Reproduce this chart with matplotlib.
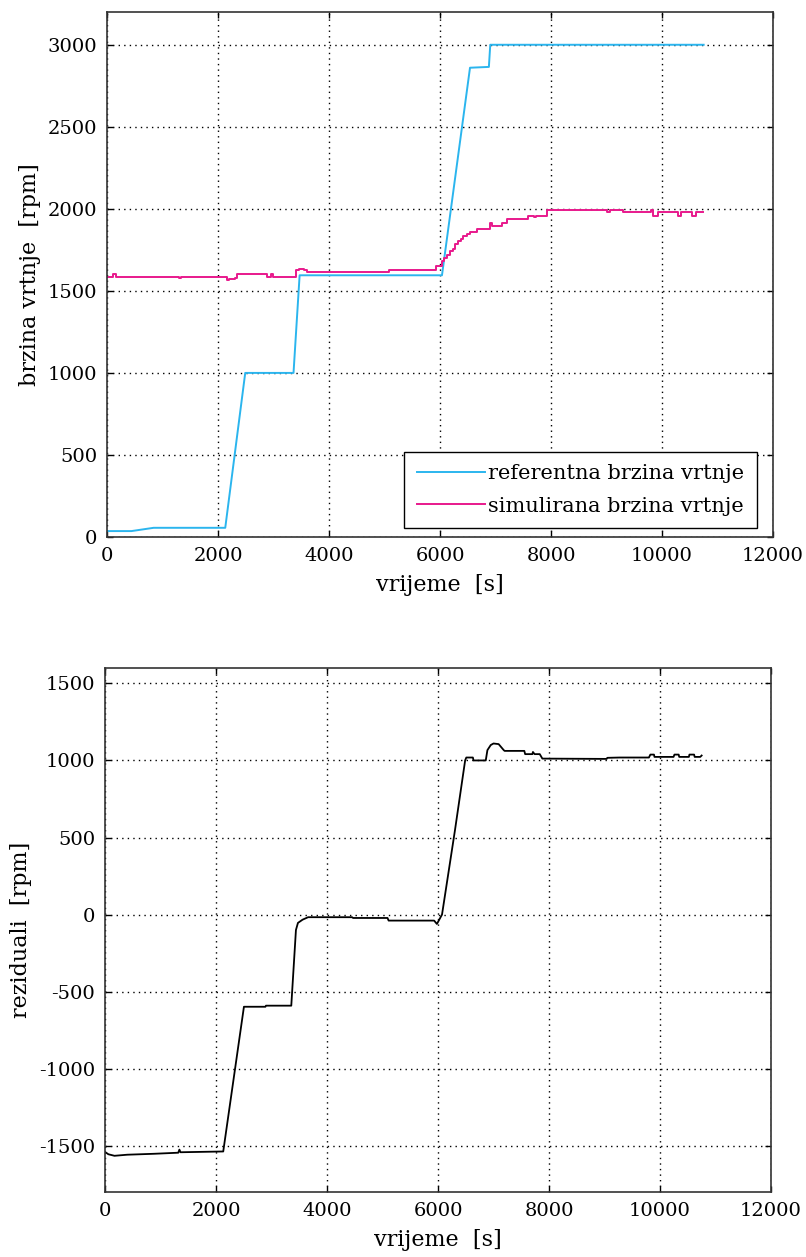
import matplotlib
matplotlib.use('Agg')
import matplotlib.pyplot as plt

# referentna brzina vrtnje (cijan)
ref_t = [0, 440, 840, 2130, 2490, 3360, 3470, 6035, 6540, 6880, 6905, 10750]
ref_v = [36, 36, 56, 56, 1000, 1000, 1595, 1595, 2860, 2865, 3000, 3000]

# simulirana brzina vrtnje (magenta), stepenasto
sim_t = [0, 110, 160, 1300, 1330, 2157, 2200, 2300, 2350, 2875, 2960, 2990,
         3400, 3450, 3540, 3600, 5083, 5926, 6040, 6080, 6121, 6181, 6230,
         6271, 6331, 6380, 6421, 6480, 6541, 6662, 6900, 6932, 7112, 7203,
         7593, 7700, 7730, 7923, 9004, 9060, 9293, 9800, 9840, 9935, 10295,
         10350, 10536, 10610, 10746]
sim_v = [1585, 1605, 1585, 1578, 1585, 1566, 1575, 1580, 1602, 1586, 1600, 1586,
         1625, 1633, 1625, 1612, 1627, 1653, 1680, 1702, 1721, 1740, 1757,
         1788, 1805, 1818, 1837, 1848, 1856, 1879, 1911, 1893, 1915, 1938,
         1958, 1948, 1958, 1995, 1982, 1995, 1978, 1995, 1958, 1983, 1958,
         1983, 1958, 1983, 1983]

# reziduali
res_t = [0, 60, 170, 400, 880, 1320, 1340, 1360, 2130, 2503, 2890, 2900, 3356,
         3440, 3476, 3560, 3660, 4450, 4470, 5090, 5110, 5930, 5980, 6072, 6304,
         6489, 6510, 6628, 6640, 6860, 6890, 6950, 7000, 7092, 7184, 7200, 7555,
         7570, 7700, 7710, 7740, 7833, 7880, 9038, 9050, 9270, 9800, 9826, 9891,
         9900, 10244, 10260, 10336, 10346, 10520, 10530, 10614, 10624, 10725, 10750]
res_v = [-1540, -1555, -1565, -1558, -1552, -1545, -1525, -1542, -1537, -598, -598, -591, -591,
         -100, -54, -33, -17, -17, -22, -22, -39, -39, -61, 0, 544,
         1001, 1019, 1019, 1000, 1000, 1067, 1100, 1110, 1106, 1067, 1062, 1062,
         1041, 1041, 1055, 1041, 1041, 1012, 1010, 1017, 1019, 1019, 1038, 1038,
         1023, 1023, 1038, 1038, 1023, 1023, 1038, 1038, 1023, 1023, 1032]

plt.rcParams['font.family'] = ['DejaVu Serif']
plt.rcParams['font.size'] = 14
plt.rcParams['axes.unicode_minus'] = False

fig = plt.figure(figsize=(8.06, 12.57), dpi=100)
ax1 = fig.add_axes([0.1328, 0.5728, 0.8263, 0.4177])
ax2 = fig.add_axes([0.1303, 0.0517, 0.8263, 0.4169])

def uredi_os(ax):
    ax.set_xlim(0, 12000)
    ax.set_xticks(range(0, 12001, 2000))
    ax.grid(True, color='black', linestyle=(0, (1, 3)), linewidth=1.0)
    ax.tick_params(direction='in', top=True, right=True, length=4, width=1, pad=7, labelsize=14)
    for s in ax.spines.values():
        s.set_color('#333333')
        s.set_linewidth(1.2)
    ax.set_xlabel('vrijeme  [s]', fontsize=16, labelpad=7)

# Gornji graf
ax1.plot(ref_t, ref_v, color='#2BB5EE', linewidth=1.4, label='referentna brzina vrtnje')
ax1.plot(sim_t, sim_v, color='#E8198C', linewidth=1.4, drawstyle='steps-post',
         label='simulirana brzina vrtnje')
uredi_os(ax1)
ax1.set_ylim(0, 3200)
ax1.set_yticks(range(0, 3001, 500))
ax1.set_ylabel('brzina vrtnje  [rpm]', fontsize=16, labelpad=5)
leg = ax1.legend(loc='lower right', bbox_to_anchor=(0.976, 0.017), borderaxespad=0,
                 fancybox=False, edgecolor='black', framealpha=1, fontsize=15,
                 handlelength=3.3, handletextpad=0.15, labelspacing=0.65, borderpad=0.6)
leg.get_frame().set_linewidth(1.0)

# Donji graf
ax2.plot(res_t, res_v, color='black', linewidth=1.3)
uredi_os(ax2)
ax2.set_ylim(-1800, 1600)
ax2.set_yticks(range(-1500, 1501, 500))
ax2.set_ylabel('reziduali  [rpm]', fontsize=16, labelpad=5)

plt.savefig('out.png', dpi=100)
